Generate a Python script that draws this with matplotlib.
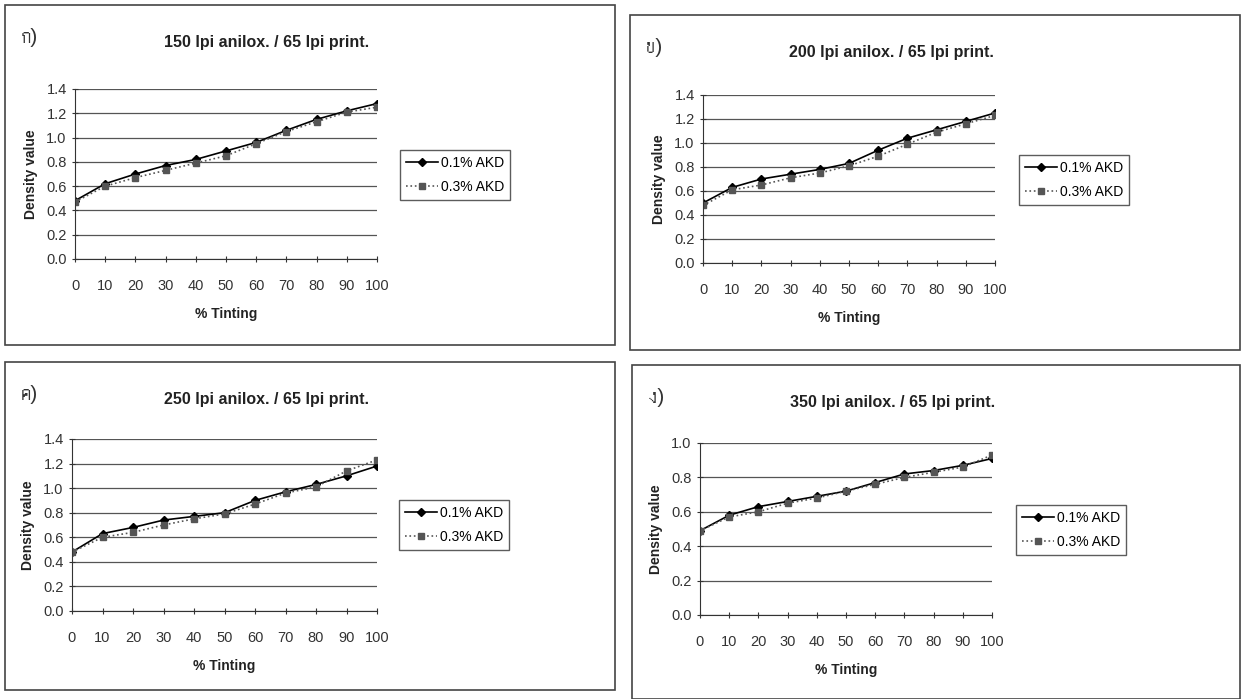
import matplotlib
matplotlib.use('Agg')
import matplotlib.pyplot as plt
from matplotlib import font_manager
from matplotlib.ft2font import FT2Font
from matplotlib.patches import Rectangle

# find an installed font that has Thai letters
thai_family = None
for path in font_manager.findSystemFonts():
    try:
        if 0x0E01 in FT2Font(path).get_charmap():
            thai_family = font_manager.FontProperties(fname=path).get_name()
            font_manager.fontManager.addfont(path)
            break
    except Exception:
        pass

fams = ['Liberation Sans', 'DejaVu Sans']
if thai_family:
    fams.append(thai_family)
plt.rcParams['font.family'] = fams

tinting = [0, 10, 20, 30, 40, 50, 60, 70, 80, 90, 100]

labels = ['ก)', 'ข)', 'ค)', 'ง)']
titles = ['150 lpi anilox. / 65 lpi print.', '200 lpi anilox. / 65 lpi print.',
          '250 lpi anilox. / 65 lpi print.', '350 lpi anilox. / 65 lpi print.']

akd01_150 = [0.48, 0.62, 0.70, 0.77, 0.82, 0.89, 0.96, 1.06, 1.15, 1.22, 1.28]
akd03_150 = [0.47, 0.60, 0.67, 0.73, 0.79, 0.85, 0.95, 1.05, 1.13, 1.21, 1.25]
akd01_200 = [0.50, 0.63, 0.70, 0.74, 0.78, 0.83, 0.94, 1.04, 1.11, 1.18, 1.25]
akd03_200 = [0.48, 0.61, 0.65, 0.71, 0.75, 0.81, 0.89, 0.99, 1.09, 1.16, 1.23]
akd01_250 = [0.48, 0.63, 0.68, 0.74, 0.77, 0.80, 0.90, 0.97, 1.03, 1.10, 1.18]
akd03_250 = [0.48, 0.60, 0.64, 0.70, 0.75, 0.79, 0.87, 0.96, 1.01, 1.14, 1.23]
akd01_350 = [0.49, 0.58, 0.63, 0.66, 0.69, 0.72, 0.77, 0.82, 0.84, 0.87, 0.91]
akd03_350 = [0.49, 0.57, 0.60, 0.65, 0.68, 0.72, 0.76, 0.80, 0.83, 0.86, 0.93]

series01 = [akd01_150, akd01_200, akd01_250, akd01_350]
series03 = [akd03_150, akd03_200, akd03_250, akd03_350]
ymax = [1.4, 1.4, 1.4, 1.0]

W, H = 1245, 699
fig = plt.figure(figsize=(W / 100, H / 100), dpi=100)
fig.patch.set_facecolor('white')

# panel boxes (px): left, top, right, bottom
boxes = [(5, 5, 615, 345), (630, 15, 1240, 350), (5, 362, 615, 690), (632, 365, 1240, 699)]
# plot areas (px)
areas = [(75, 89, 377, 259), (703, 95, 995, 263), (72, 439, 377, 611), (700, 443, 992, 615)]
legs = [(400, 150), (1019, 155), (399, 500), (1016, 505)]

for i in range(4):
    l, t, r, b = boxes[i]
    fig.add_artist(Rectangle((l / W, 1 - b / H), (r - l) / W, (b - t) / H,
                             transform=fig.transFigure, fill=False, ec='#444444', lw=1.2))
    fig.text((l + 16) / W, 1 - (t + 38) / H, labels[i], fontsize=15, color='#333333')
    fig.text((l + r) / 2 / W - 0.035, 1 - (t + 42) / H, titles[i], fontsize=11.5,
             fontweight='bold', ha='center', color='#222222')

    al, at, ar, ab = areas[i]
    ax = fig.add_axes([al / W, 1 - ab / H, (ar - al) / W, (ab - at) / H])
    ax.plot(tinting, series01[i], color='black', lw=1.2, marker='D', ms=4, label='0.1% AKD')
    ax.plot(tinting, series03[i], color='#555555', lw=1.2, ls=':', marker='s', ms=4,
            label='0.3% AKD')
    ax.set_xlim(0, 100)
    ax.set_ylim(0, ymax[i])
    ax.set_xticks(tinting)
    step = 0.2
    yt = [round(k * step, 1) for k in range(int(round(ymax[i] / step)) + 1)]
    ax.set_yticks(yt)
    ax.set_yticklabels(['%.1f' % v for v in yt])
    ax.grid(axis='y', color='#555555', lw=0.9)
    ax.set_axisbelow(True)
    for s in ['top', 'right']:
        ax.spines[s].set_visible(False)
    ax.spines['left'].set_color('#333333')
    ax.spines['bottom'].set_color('#333333')
    ax.tick_params(direction='inout', length=5, labelsize=10.5, colors='#333333')
    ax.tick_params(axis='x', pad=12)
    ax.set_xlabel('% Tinting', fontsize=10, fontweight='bold', labelpad=10, color='#222222')
    ax.set_ylabel('Density value', fontsize=10, fontweight='bold', labelpad=6, color='#222222')
    lx, ly = legs[i]
    leg = ax.legend(loc='upper left', bbox_to_anchor=(lx / W, 1 - ly / H),
                    bbox_transform=fig.transFigure, fontsize=10, frameon=True,
                    fancybox=False, edgecolor='#333333', handlelength=2.3,
                    handletextpad=0.2, borderpad=0.45, labelspacing=0.7,
                    borderaxespad=0)
    leg.get_frame().set_linewidth(1.0)

fig.savefig('out.png', dpi=100)
